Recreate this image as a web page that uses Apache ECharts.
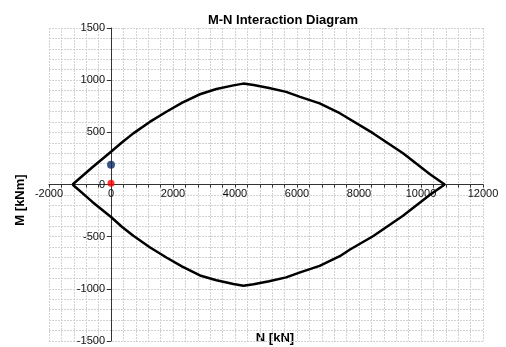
<!DOCTYPE html>
<html>
<head>
<meta charset="utf-8">
<script src="https://cdn.jsdelivr.net/npm/echarts@6/dist/echarts.min.js"></script>
<style>
  html, body { margin: 0; padding: 0; background: #fff; }
  #chart { width: 506px; height: 347px; }
</style>
</head>
<body>
<div id="chart"></div>
<script>
// Interaction envelope, traced around: upper branch left to right, lower branch right to left
const envelopeN = [
  -1240, -600, 0, 360, 720, 1250, 1800, 2300, 2870, 3400, 3950, 4270,
  4600, 5100, 5650, 6100, 6730, 7380, 8450, 9420, 10280, 10765,
  10280, 9420, 8450, 7710, 7380, 6730, 6100, 5650, 5100, 4600, 4270,
  3950, 3400, 2870, 2300, 1800, 1250, 720, 360, 0, -600, -1240
];
const envelopeM = [
  0, 165, 314, 405, 490, 600, 700, 785, 865, 915, 950, 967,
  954, 925, 888, 840, 778, 683, 492, 299, 101, 0,
  -101, -299, -496, -623, -687, -780, -842, -890, -928, -956, -971,
  -953, -917, -872, -787, -702, -602, -492, -407, -312, -167, 0
];

// Load points
const loadBlue = [[0, 190]];
const loadRed = [[0, 12]];

// Axis ranges and label steps
const nRange = [-2000, 12000];
const mRange = [-1500, 1500];
const nStep = 2000;
const mStep = 500;

const envelope = envelopeN.map((n, i) => [n, envelopeM[i]]);

// Plot rectangle
const G = { left: 49, right: 23, top: 28, bottom: 6 };
const W = 506, H = 347;
const plotW = W - G.left - G.right;
const plotH = H - G.top - G.bottom;
// Shift each axis from the plot edge onto the other axis's zero
const yAxisShift = -plotW * (0 - nRange[0]) / (nRange[1] - nRange[0]);
const xAxisShift = -plotH * (0 - mRange[0]) / (mRange[1] - mRange[0]);

const gridLine = { color: '#d2d2d2', width: 1, type: [2, 1] };
const labelFont = { fontFamily: 'Liberation Sans, Arial, sans-serif', fontSize: 11, color: '#111' };
const plain = v => String(v);

const chart = echarts.init(document.getElementById('chart'), null, { renderer: 'canvas' });
chart.setOption({
  animation: false,
  backgroundColor: '#fff',
  title: {
    text: 'M-N Interaction Diagram',
    left: 278, top: 9, textAlign: 'center',
    textStyle: { fontFamily: 'Liberation Sans, Arial, sans-serif', fontSize: 13, fontWeight: 'bold', color: '#000' }
  },
  grid: Object.assign({ containLabel: false }, G),
  xAxis: {
    type: 'value', position: 'bottom', offset: xAxisShift,
    min: nRange[0], max: nRange[1], interval: nStep,
    axisLine: { onZero: false, lineStyle: { color: '#333', width: 1 } },
    axisTick: { show: true, inside: false, length: 3, lineStyle: { color: '#333' } },
    minorTick: { show: true, splitNumber: 5, length: 3, lineStyle: { color: '#333' } },
    splitLine: { show: true, lineStyle: gridLine },
    minorSplitLine: { show: true, lineStyle: gridLine },
    axisLabel: Object.assign({ margin: 4, formatter: plain }, labelFont)
  },
  yAxis: {
    type: 'value', position: 'left', offset: yAxisShift,
    min: mRange[0], max: mRange[1], interval: mStep,
    axisLine: { onZero: false, lineStyle: { color: '#333', width: 1 } },
    axisTick: { show: true, inside: false, length: 4, lineStyle: { color: '#333' } },
    minorTick: { show: false, splitNumber: 5 },
    splitLine: { show: true, lineStyle: gridLine },
    minorSplitLine: { show: true, lineStyle: gridLine },
    axisLabel: Object.assign({ margin: 6, formatter: plain }, labelFont)
  },
  graphic: [
    {
      type: 'text', x: 20, y: 200, rotation: Math.PI / 2,
      style: {
        text: 'M [kNm]', align: 'center', verticalAlign: 'middle',
        font: 'bold 13px "Liberation Sans", Arial, sans-serif', fill: '#000'
      }
    },
    {
      type: 'text', x: 275, y: 338,
      style: {
        text: 'N [kN]', align: 'center', verticalAlign: 'middle',
        font: 'bold 13px "Liberation Sans", Arial, sans-serif', fill: '#000'
      }
    }
  ],
  series: [
    {
      type: 'line', data: envelope, showSymbol: false, symbol: 'none',
      lineStyle: { color: '#000', width: 2.5 }, z: 3
    },
    {
      type: 'scatter', data: loadBlue, symbol: 'circle', symbolSize: 8,
      itemStyle: { color: '#0b2a66' }, z: 4
    },
    {
      type: 'scatter', data: loadRed, symbol: 'circle', symbolSize: 7,
      itemStyle: { color: '#ff0000' }, z: 5
    }
  ]
});
</script>
</body>
</html>
